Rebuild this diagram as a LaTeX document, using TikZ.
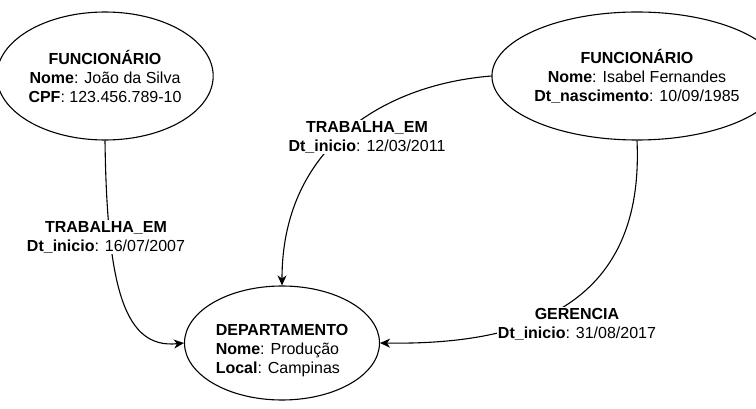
\documentclass[tikz,border=0pt]{standalone}
\usepackage{fontspec}
\setmainfont{Liberation Sans}
\usetikzlibrary{shapes.geometric,arrows.meta}
\begin{document}
\begin{tikzpicture}[x=1pt,y=-1pt,
  entity/.style={draw, ellipse, line width=1.1pt, inner sep=0pt, align=center,
    font=\fontsize{16}{19}\selectfont},
  rel/.style={line width=1.1pt, -{Stealth[length=10pt,width=9pt,inset=3pt]}},
  rlabel/.style={fill=white, inner sep=1pt, align=center,
    font=\fontsize{16}{19}\selectfont}]
\useasboundingbox (0,0) rectangle (756,409);

% entities
\node[entity, minimum width=194pt, minimum height=128pt] (f1) at (105,76)
  {\textbf{FUNCIONÁRIO}\\\textbf{Nome}: João da Silva\\\textbf{CPF}: 123.456.789-10};
\node[entity, minimum width=230pt, minimum height=128pt] (f2) at (637,76)
  {\textbf{FUNCIONÁRIO}\\\textbf{Nome}: Isabel Fernandes\\\textbf{Dt\_nascimento}: 10/09/1985};
\node[entity, minimum width=195pt, minimum height=114pt,
  label={[name=dtxt, align=left, yshift=-8pt, font=\fontsize{16}{19}\selectfont]center:
  \textbf{DEPARTAMENTO}\\\textbf{Nome}: Produção\\\textbf{Local}: Campinas}] (dep) at (282,343) {};

% relationships
\draw[rel] (f1.south) .. controls (107,290) and (125,349) .. (dep.west);
\draw[rel] (f2.west) .. controls (380,85) and (282,150) .. (dep.north);
\draw[rel] (f2.south) .. controls (645,310) and (520,345) .. (dep.east);

% relationship labels
\node[rlabel] (l1) at (106,237) {\textbf{TRABALHA\_EM}\\\textbf{Dt\_inicio}: 16/07/2007};
\node[rlabel] (l2) at (367,137) {\textbf{TRABALHA\_EM}\\\textbf{Dt\_inicio}: 12/03/2011};
\node[rlabel] (l3) at (577,324) {\textbf{GERENCIA}\\\textbf{Dt\_inicio}: 31/08/2017};
\end{tikzpicture}
\end{document}
